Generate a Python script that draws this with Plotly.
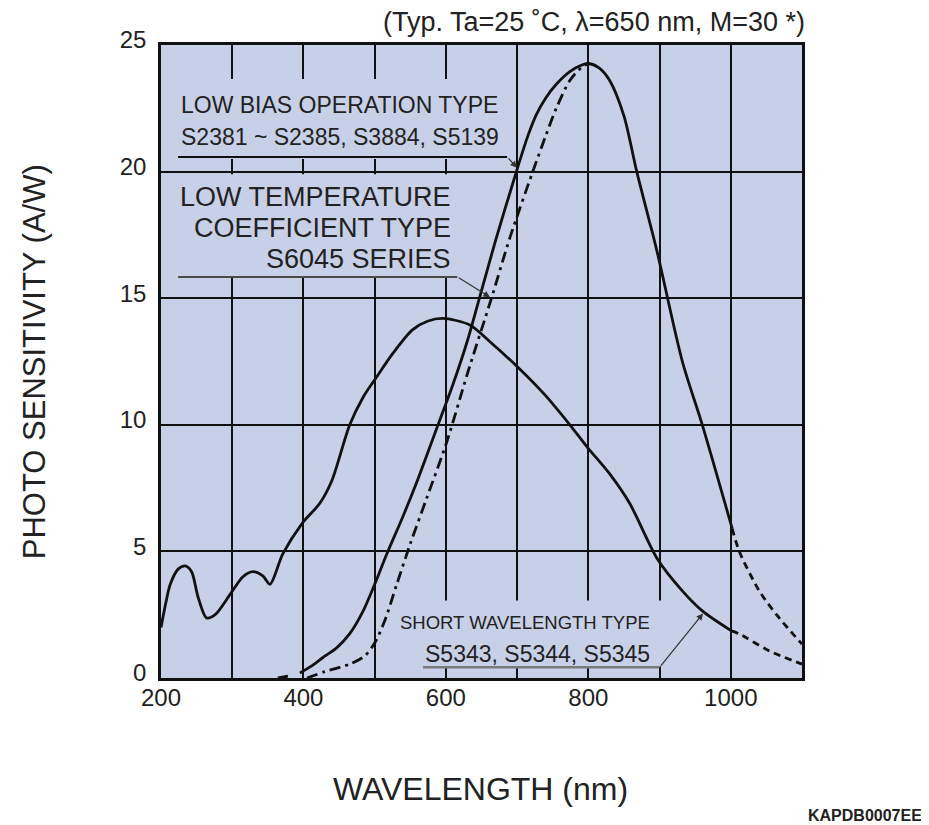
import plotly.graph_objects as go

# ---------------- data ----------------
# Short wavelength type (S5343, S5344, S5345): solid part and dashed tail
sw_x = [200, 207, 213, 224, 234, 243, 252, 264, 276, 297, 315, 329, 343, 353, 371, 398, 423, 440,
        465, 484, 503, 525, 553, 575, 596, 633, 665, 700, 740, 774, 799, 830, 858, 897, 932, 960, 1001]
sw_y = [1.99, 3.0, 3.7, 4.3, 4.43, 4.2, 3.2, 2.37, 2.5, 3.3, 4.0, 4.2, 4.03, 3.7, 4.9, 6.1, 6.9, 7.8,
        10.0, 11.1, 11.9, 12.8, 13.75, 14.1, 14.2, 13.95, 13.2, 12.3, 11.15, 10.0, 9.1, 8.06, 6.9, 4.7, 3.44, 2.65, 1.86]
sw_tail_x = [1001, 1012, 1054, 1100]
sw_tail_y = [1.86, 1.74, 1.07, 0.55]

# Low bias operation type (S2381 ~ S2385, S3884, S5139): dashed head, solid body, dashed tail
lb_head_x = [364, 380, 395]
lb_head_y = [0.0, 0.08, 0.2]
lb_x = [395, 410, 427, 447, 465, 483, 500, 517, 540, 560, 589, 610, 630, 650, 670, 699, 715, 727, 740,
        755, 774, 790, 800, 815, 830, 850, 868, 896, 932, 960, 1002]
lb_y = [0.2, 0.45, 0.8, 1.2, 1.75, 2.6, 3.7, 4.9, 6.4, 7.8, 10.0, 11.6, 13.3, 15.3, 17.3, 20.0, 21.4, 22.25, 22.9,
        23.45, 23.95, 24.2, 24.27, 24.1, 23.6, 22.2, 20.0, 16.9, 12.5, 10.0, 5.9]
lb_tail_x = [1002, 1012, 1040, 1068, 1100]
lb_tail_y = [5.9, 5.0, 3.44, 2.37, 1.34]

# Low temperature coefficient type (S6045 series): dash-dot
lt_x = [405, 430, 465, 486, 500, 514, 531, 550, 573, 601, 630, 664, 690, 722, 740, 755, 774, 790, 800]
lt_y = [0.0, 0.25, 0.55, 0.87, 1.38, 2.25, 3.7, 5.3, 7.1, 9.3, 12.0, 15.0, 17.4, 20.0, 21.4, 22.5, 23.6, 24.1, 24.27]

x_tick_vals = [200, 400, 600, 800, 1000]
x_tick_text = ["200", "400", "600", "800", "1000"]
y_tick_vals = [0, 5, 10, 15, 20, 25]
y_tick_text = ["0", "5", "10", "15", "20", "25"]

# ---------------- styles ----------------
BG = "#C8D0E8"
INK = "#111111"
FONT = "Liberation Sans, Arial, sans-serif"
LW = 2.8

fig = go.Figure()

def add_line(x, y, dash="solid"):
    fig.add_trace(go.Scatter(x=x, y=y, mode="lines", showlegend=False, hoverinfo="skip",
                             line=dict(color=INK, width=LW, dash=dash, shape="spline", smoothing=0.8)))

add_line(sw_x, sw_y)
add_line(sw_tail_x, sw_tail_y, "7px,5px")
add_line(lb_head_x, lb_head_y, "10px,13px")
add_line(lb_x, lb_y)
add_line(lb_tail_x, lb_tail_y, "7px,5px")
add_line(lt_x, lt_y, "11px,5px,3px,5px")

# label backgrounds hiding the grid (between grid and traces)
for (x0, x1, y0, y1) in [(202, 687, 20.5, 23.66), (202, 618, 15.87, 19.9), (528, 903, 0.45, 3.06)]:
    fig.add_shape(type="rect", xref="x", yref="y", x0=x0, x1=x1, y0=y0, y1=y1,
                  fillcolor=BG, line=dict(width=0), layer="between")

# underlines
fig.add_shape(type="line", xref="x", yref="y", x0=224, x1=686, y0=20.58, y1=20.58,
              line=dict(color=INK, width=2))
fig.add_shape(type="line", xref="x", yref="y", x0=224, x1=616, y0=15.84, y1=15.84,
              line=dict(color="#4a4a4a", width=2))
fig.add_shape(type="line", xref="x", yref="y", x0=568, x1=900, y0=0.42, y1=0.42,
              line=dict(color="#7a7a7a", width=2.5))

# leader arrows
for (tx, ty, sx, sy) in [(699.8, 20.15, 686, 20.58), (661.9, 15.04, 616, 15.84), (961, 2.55, 900, 0.42)]:
    fig.add_annotation(x=tx, y=ty, ax=sx, ay=sy, xref="x", yref="y", axref="x", ayref="y",
                       text="", showarrow=True, arrowhead=2, arrowsize=1.1, arrowwidth=1.2,
                       arrowcolor="#333333")

def label(text, x, y, size, anchor="left"):
    fig.add_annotation(text=text, x=x, y=y, xref="x", yref="y",
                       showarrow=False, xanchor=anchor, yanchor="middle",
                       font=dict(family=FONT, size=size, color="#222222"))

label("LOW BIAS OPERATION TYPE", 225, 22.63, 23)
label("S2381 ~ S2385, S3884, S5139", 225, 21.37, 23)
label("LOW TEMPERATURE", 610, 18.99, 27, anchor="right")
label("COEFFICIENT TYPE", 610, 17.77, 27, anchor="right")
label("S6045 SERIES", 610, 16.54, 27, anchor="right")
label("SHORT WAVELENGTH TYPE", 889, 2.19, 18.5, anchor="right")
label("S5343, S5344, S5345", 889, 0.95, 23, anchor="right")

# titles and notes (paper coordinates)
fig.add_annotation(text="(Typ. Ta=25 ˚C, λ=650 nm, M=30 *)", x=1.008, y=1.036, xref="paper", yref="paper",
                   showarrow=False, xanchor="right", yanchor="middle",
                   font=dict(family=FONT, size=27, color="#222222"))
fig.add_annotation(text="PHOTO SENSITIVITY (A/W)", x=-0.197, y=0.5, xref="paper", yref="paper",
                   showarrow=False, textangle=-90, xanchor="center", yanchor="middle",
                   font=dict(family=FONT, size=31, color="#222222"))
fig.add_annotation(text="WAVELENGTH (nm)", x=0.499, y=-0.175, xref="paper", yref="paper",
                   showarrow=False, xanchor="center", yanchor="middle",
                   font=dict(family=FONT, size=32, color="#222222"))
fig.add_annotation(text="<b>KAPDB0007EE</b>", x=1.19, y=-0.217, xref="paper", yref="paper",
                   showarrow=False, xanchor="right", yanchor="middle",
                   font=dict(family=FONT, size=16, color="#222222"))

fig.update_layout(
    width=929, height=825,
    margin=dict(l=153, r=135, t=37, b=155, pad=0),
    paper_bgcolor="white", plot_bgcolor=BG,
    font=dict(family=FONT, color="#222222"),
    xaxis=dict(range=[200, 1100], tickmode="array", tickvals=x_tick_vals, ticktext=x_tick_text,
               showgrid=True, gridcolor=INK, gridwidth=1.6, zeroline=False,
               minor=dict(dtick=100, tick0=200, showgrid=True, gridcolor=INK, gridwidth=1.6),
               showline=True, mirror=True, linecolor=INK, linewidth=2.5,
               ticks="", ticklabelstandoff=-4, tickfont=dict(size=24, color="#222222")),
    yaxis=dict(range=[0, 25], tickmode="array", tickvals=y_tick_vals, ticktext=y_tick_text,
               showgrid=True, gridcolor=INK, gridwidth=1.6, zeroline=False,
               showline=True, mirror=True, linecolor=INK, linewidth=2.5,
               ticks="", ticklabelstandoff=7, ticklabelshift=-5,
               tickfont=dict(size=24, color="#222222")),
)

fig.write_html("out.html")
